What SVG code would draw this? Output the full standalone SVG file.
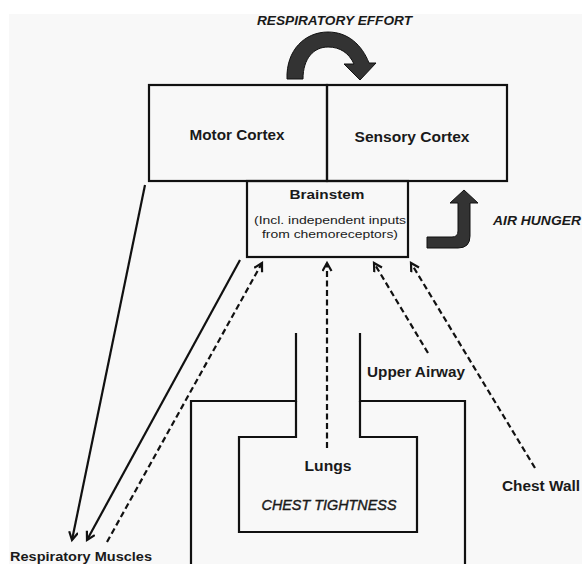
<svg xmlns="http://www.w3.org/2000/svg" width="582" height="564" viewBox="0 0 582 564">
<style>
.box{fill:none;stroke:#111;stroke-width:2.2}
.ln{fill:none;stroke:#111;stroke-width:2.2}
.dash{fill:none;stroke:#111;stroke-width:2.2;stroke-dasharray:6 3.5}
.lbl{font-family:"Liberation Sans",Arial,sans-serif;font-weight:bold;fill:#1a1a1a}
.sm{font-family:"Liberation Sans",Arial,sans-serif;font-weight:normal;fill:#1a1a1a}
.it{font-family:"Liberation Sans",Arial,sans-serif;font-style:italic;fill:#1a1a1a}
.big{fill:#333;stroke:#111;stroke-width:1}
</style>
<defs>
<marker id="ah" markerUnits="userSpaceOnUse" markerWidth="14" markerHeight="14" refX="9" refY="5" orient="auto">
<path d="M1,0.5 L9,5 L1,9.5" fill="none" stroke="#111" stroke-width="2.2" stroke-dasharray="none"/>
</marker>
</defs>
<rect width="582" height="564" fill="#ffffff"/>
<rect x="9" y="14" width="573" height="550" fill="#f8f8f8"/>

<g id="respiratory-effort">
<path class="big" d="M287,79 C286,50 305,32 328,32 C348,32 362,45 369,63 L376,63 L360,80 L344,64 L354,64 C349,53 340,47 328,47 C314,47 303,58 303,79 Z"/>
<text class="it" font-weight="bold" x="257" y="25" font-size="13" textLength="155" lengthAdjust="spacingAndGlyphs">RESPIRATORY EFFORT</text>
</g>

<g id="motor-cortex">
<rect class="box" x="149" y="85" width="178" height="96"/>
<text class="lbl" x="237" y="140" font-size="14.5" text-anchor="middle" textLength="95" lengthAdjust="spacingAndGlyphs">Motor Cortex</text>
</g>

<g id="sensory-cortex">
<rect class="box" x="327" y="85" width="180" height="96"/>
<text class="lbl" x="412" y="142" font-size="14.5" text-anchor="middle" textLength="115" lengthAdjust="spacingAndGlyphs">Sensory Cortex</text>
</g>

<g id="brainstem">
<rect class="box" x="247" y="181" width="161" height="76"/>
<text class="lbl" x="327" y="199" font-size="13.5" text-anchor="middle" textLength="75" lengthAdjust="spacingAndGlyphs">Brainstem</text>
<text class="sm" x="330" y="224" font-size="11.5" text-anchor="middle" textLength="152" lengthAdjust="spacingAndGlyphs">(Incl. independent inputs</text>
<text class="sm" x="330" y="238" font-size="11.5" text-anchor="middle" textLength="136" lengthAdjust="spacingAndGlyphs">from chemoreceptors)</text>
</g>

<g id="air-hunger">
<path class="big" d="M427,237 H452 Q458,237 458,231 V203 H450 L464,190 L478,203 H470 V236 Q470,248 458,248 H427 Z"/>
<text class="it" font-weight="bold" x="493" y="225" font-size="13" textLength="88" lengthAdjust="spacingAndGlyphs">AIR HUNGER</text>
</g>

<g id="lungs">
<path class="ln" d="M191,566 V401 H296 V333"/>
<path class="ln" d="M360,333 V401 H465 V566"/>
<path class="ln" d="M296,401 V437 H239 V532 H417 V437 H360 V401"/>
<text class="lbl" x="328" y="471" font-size="14" text-anchor="middle" textLength="47" lengthAdjust="spacingAndGlyphs">Lungs</text>
<text class="it" x="329" y="510" font-size="14.5" text-anchor="middle" textLength="135" lengthAdjust="spacingAndGlyphs" stroke="#1a1a1a" stroke-width="0.4">CHEST TIGHTNESS</text>
</g>

<g id="upper-airway">
<text class="lbl" x="367" y="377" font-size="14" textLength="98" lengthAdjust="spacingAndGlyphs">Upper Airway</text>
</g>

<g id="chest-wall">
<text class="lbl" x="502" y="491" font-size="14" textLength="78" lengthAdjust="spacingAndGlyphs">Chest Wall</text>
</g>

<g id="respiratory-muscles">
<text class="lbl" x="10" y="561" font-size="13.5" textLength="142" lengthAdjust="spacingAndGlyphs">Respiratory Muscles</text>
</g>

<g id="connectors">
<line class="ln" x1="145" y1="185" x2="72" y2="540" marker-end="url(#ah)"/>
<line class="ln" x1="240" y1="260" x2="87" y2="540" marker-end="url(#ah)"/>
<line class="dash" x1="107" y1="542" x2="262" y2="263" marker-end="url(#ah)"/>
<line class="dash" x1="327" y1="448" x2="327" y2="263" marker-end="url(#ah)"/>
<line class="dash" x1="428" y1="353" x2="374" y2="263" marker-end="url(#ah)"/>
<line class="dash" x1="535" y1="468" x2="411" y2="263" marker-end="url(#ah)"/>
</g>
</svg>
